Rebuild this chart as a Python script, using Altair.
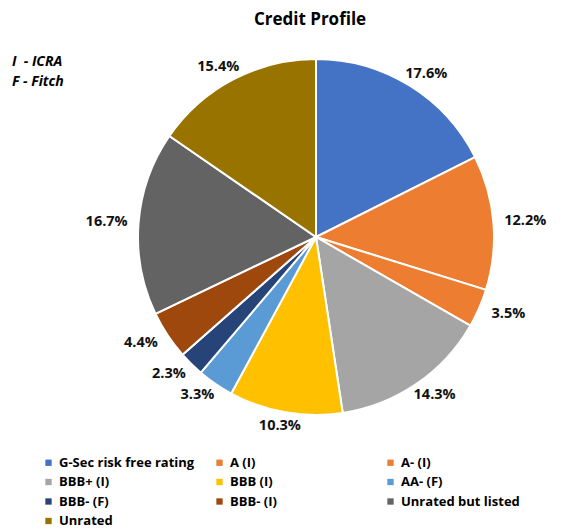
import altair as alt
import pandas as pd

categories = ["G-Sec risk free rating", "A (I)", "A- (I)", "BBB+ (I)", "BBB (I)",
              "AA- (F)", "BBB- (F)", "BBB- (I)", "Unrated but listed", "Unrated"]
values = [17.6, 12.2, 3.5, 14.3, 10.3, 3.3, 2.3, 4.4, 16.7, 15.4]
colors = ["#4472C4", "#ED7D31", "#ED7D31", "#A5A5A5", "#FFC000",
          "#5B9BD5", "#264478", "#9E480E", "#636363", "#997300"]
title_text = "Credit Profile"
note_icra = "I\u00a0\u00a0- ICRA"
note_fitch = "F - Fitch"

df = pd.DataFrame({
    "category": categories,
    "value": values,
    "idx": list(range(len(categories))),
    "label": [f"{v:.1f}%" for v in values],
})

FONT = "Open Sans"
CX, CY = 316, 237
RX, RY = 210, 192  # label ellipse (outside-end style)

base = alt.Chart(df).encode(
    theta=alt.Theta("value:Q", stack=True),
    order=alt.Order("idx:Q"),
    x=alt.value(CX),
    y=alt.value(CY),
)

arcs = base.mark_arc(outerRadius=178, stroke="white", strokeWidth=2).encode(
    color=alt.Color(
        "category:N",
        scale=alt.Scale(domain=categories, range=colors),
        sort=categories,
        legend=alt.Legend(
            title=None, orient="none", legendX=42, legendY=456, columns=3,
            direction="horizontal",
            gridAlign="all", columnPadding=18, rowPadding=5.5,
            symbolType="square", symbolSize=40, symbolStrokeWidth=0,
            labelFont=FONT, labelFontSize=13, labelFontWeight="bold",
            labelColor="#000000", labelOffset=4, labelLimit=300,
        ),
    )
)

labels = alt.Chart(df).transform_joinaggregate(
    total="sum(value)"
).transform_window(
    cum="sum(value)", sort=[alt.SortField("idx")], frame=[None, 0]
).transform_calculate(
    mid="(datum.cum - datum.value / 2) / datum.total * 2 * PI",
).transform_calculate(
    lx=f"{CX} + {RX} * sin(datum.mid)",
    ly=f"{CY} - {RY} * cos(datum.mid)",
).mark_text(font=FONT, fontSize=14.5, fontWeight="bold", color="#111111",
            baseline="middle").encode(
    x=alt.X("lx:Q", scale=None, axis=None),
    y=alt.Y("ly:Q", scale=None, axis=None),
    text="label:N",
)

tdf = pd.DataFrame({"t": [title_text]})
title = alt.Chart(tdf).mark_text(font=FONT, fontSize=17, fontWeight="bold",
                                 color="#000000", baseline="middle").encode(
    text="t:N", x=alt.value(310), y=alt.value(20))

n1 = alt.Chart(pd.DataFrame({"t": [note_icra]})).mark_text(
    font=FONT, fontSize=14, fontWeight="bold", fontStyle="italic", align="left",
    baseline="middle", color="#000000").encode(
    text="t:N", x=alt.value(12), y=alt.value(62))
n2 = alt.Chart(pd.DataFrame({"t": [note_fitch]})).mark_text(
    font=FONT, fontSize=14, fontWeight="bold", fontStyle="italic", align="left",
    baseline="middle", color="#000000").encode(
    text="t:N", x=alt.value(12), y=alt.value(82))

chart = alt.layer(arcs, labels, title, n1, n2).properties(
    width=564, height=529, autosize=alt.AutoSizeParams(type="none"),
    padding=0,
).configure_view(stroke=None)

chart.save("out.html", embed_options={"renderer": "svg", "actions": False})
